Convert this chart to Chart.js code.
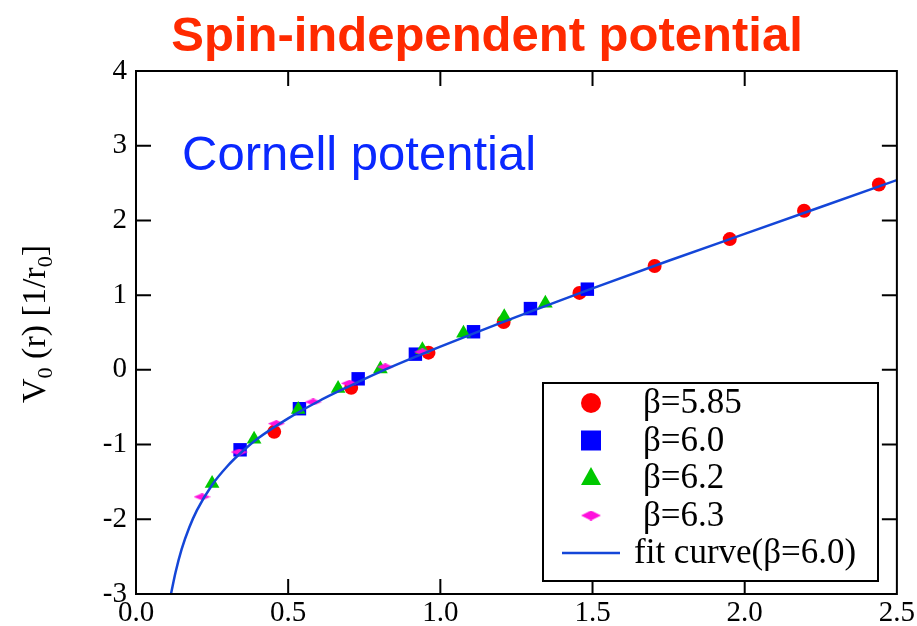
<!DOCTYPE html>
<html>
<head>
<meta charset="utf-8">
<script src="https://cdn.jsdelivr.net/npm/chart.js@4.4.0/dist/chart.umd.min.js"></script>
<style>
  html, body { margin: 0; padding: 0; background: #fff; }
  canvas { display: block; }
</style>
</head>
<body>
<canvas id="pot" width="917" height="626"></canvas>
<script>
// static potential V0(r) in units of r0, four lattice couplings
const r585 = [0.454, 0.707, 0.961, 1.208, 1.457, 1.704, 1.951, 2.195, 2.441]
const v585 = [-0.83, -0.24, 0.23, 0.64, 1.03, 1.39, 1.75, 2.13, 2.48]

const r600 = [0.342, 0.537, 0.730, 0.918, 1.109, 1.296, 1.483]
const v600 = [-1.07, -0.52, -0.12, 0.21, 0.51, 0.82, 1.08]

const r620 = [0.250, 0.388, 0.533, 0.664, 0.803, 0.941, 1.076, 1.210, 1.345]
const v620 = [-1.52, -0.93, -0.53, -0.25, 0.01, 0.27, 0.49, 0.71, 0.89]

const r630 = [0.217, 0.339, 0.461, 0.582, 0.701, 0.819, 0.941]
const v630 = [-1.70, -1.10, -0.72, -0.43, -0.18, 0.04, 0.24]

// fit curve (beta=6.0)
const rFit = [0.115, 0.13, 0.15, 0.175, 0.2, 0.25, 0.3, 0.35, 0.4, 0.5, 0.6, 0.7, 0.8, 1.0, 1.25, 1.5, 1.75, 2.0, 2.25, 2.5]
const vFit = [-3.0, -2.71, -2.40, -2.11, -1.88, -1.54, -1.29, -1.09, -0.92, -0.65, -0.42, -0.22, -0.03, 0.31, 0.71, 1.09, 1.46, 1.82, 2.18, 2.54]

const seriesLabels = ['β=5.85', 'β=6.0', 'β=6.2', 'β=6.3', 'fit curve(β=6.0)']
const xTicks = [0, 0.5, 1.0, 1.5, 2.0, 2.5]
const yTicks = [-3, -2, -1, 0, 1, 2, 3, 4]

const pts = (xs, ys) => xs.map((x, i) => ({ x: x, y: ys[i] }))

// flat magenta diamond used for beta=6.3
function diamond(w, h, color) {
	const c = document.createElement('canvas')
	c.width = w
	c.height = h
	const g = c.getContext('2d')
	g.fillStyle = color
	g.beginPath()
	g.moveTo(0, h / 2)
	g.lineTo(w / 2, 0)
	g.lineTo(w, h / 2)
	g.lineTo(w / 2, h)
	g.closePath()
	g.fill()
	return c
}

const RED = '#ff0000'
const BLUE = '#0000ff'
const GREEN = '#00c800'
const MAGENTA = '#ff10dc'
const FIT = '#1446d8'
const SERIF = "'Liberation Serif', 'Times New Roman', serif"
const SANS = "'Liberation Sans', Arial, sans-serif"

const frame = {
	id: 'frame',
	afterDatasetsDraw(chart) {
		const { ctx, chartArea: a, scales } = chart
		ctx.save()
		ctx.strokeStyle = '#000'
		ctx.lineWidth = 2
		ctx.strokeRect(a.left, a.top, a.right - a.left, a.bottom - a.top)
		const tl = 15
		ctx.beginPath()
		xTicks.slice(1, -1).forEach((v) => {
			const px = scales.x.getPixelForValue(v)
			ctx.moveTo(px, a.bottom)
			ctx.lineTo(px, a.bottom - tl)
			ctx.moveTo(px, a.top)
			ctx.lineTo(px, a.top + tl)
		})
		yTicks.slice(1, -1).forEach((v) => {
			const py = scales.y.getPixelForValue(v)
			ctx.moveTo(a.left, py)
			ctx.lineTo(a.left + tl, py)
			ctx.moveTo(a.right, py)
			ctx.lineTo(a.right - tl, py)
		})
		ctx.stroke()
		ctx.restore()
	},
}

const texts = {
	id: 'texts',
	afterDraw(chart) {
		const { ctx } = chart
		ctx.save()
		// title
		ctx.fillStyle = '#ff2a00'
		ctx.font = 'bold 49px ' + SANS
		ctx.textAlign = 'center'
		ctx.textBaseline = 'alphabetic'
		ctx.fillText('Spin-independent potential', 487, 51)

		// inset text
		ctx.fillStyle = '#0a28ff'
		ctx.font = '49px ' + SANS
		ctx.textAlign = 'left'
		ctx.fillText('Cornell potential', 182, 170)

		// y axis title with subscripts
		const parts = [
			['V', 34, 0], ['0', 22, 7], [' (r) [1/r', 34, 0], ['0', 22, 7], [']', 34, 0],
		]
		ctx.fillStyle = '#000'
		let total = 0
		parts.forEach((p) => {
			ctx.font = p[1] + 'px ' + SERIF
			total += ctx.measureText(p[0]).width
		})
		ctx.translate(45, 324)
		ctx.rotate(-Math.PI / 2)
		let x = -total / 2
		parts.forEach((p) => {
			ctx.font = p[1] + 'px ' + SERIF
			ctx.fillText(p[0], x, p[2])
			x += ctx.measureText(p[0]).width
		})
		ctx.restore()
	},
}

const legendBox = {
	id: 'legendBox',
	afterDraw(chart) {
		const { ctx } = chart
		const sets = chart.data.datasets
		ctx.save()
		ctx.fillStyle = '#fff'
		ctx.fillRect(543, 383, 335, 198)
		ctx.strokeStyle = '#000'
		ctx.lineWidth = 2
		ctx.strokeRect(543, 383, 335, 198)
		const sx = 591
		const rowY = (i) => 403 + i * 37.5
		sets.forEach((ds, i) => {
			const y = rowY(i)
			ctx.fillStyle = ds.backgroundColor
			ctx.strokeStyle = ds.borderColor
			if (ds.pointStyle === 'circle') {
				ctx.beginPath()
				ctx.arc(sx, y, 10, 0, Math.PI * 2)
				ctx.fill()
			} else if (ds.pointStyle === 'rect') {
				ctx.fillRect(sx - 10, y - 10, 20, 20)
			} else if (ds.pointStyle === 'triangle') {
				ctx.beginPath()
				ctx.moveTo(sx, y - 11)
				ctx.lineTo(sx + 10, y + 7)
				ctx.lineTo(sx - 10, y + 7)
				ctx.closePath()
				ctx.fill()
			} else if (ds.showLine) {
				ctx.lineWidth = 2.5
				ctx.beginPath()
				ctx.moveTo(562, y)
				ctx.lineTo(620, y)
				ctx.stroke()
			} else {
				ctx.drawImage(diamond(20, 10, MAGENTA), sx - 10, y - 5)
			}
			ctx.fillStyle = '#000'
			ctx.font = '35px ' + SERIF
			ctx.textBaseline = 'middle'
			ctx.fillText(ds.label, ds.showLine ? 634 : 643, y + 1)
		})
		ctx.restore()
	},
}

const tickFont = { family: SERIF, size: 29 }

new Chart(document.getElementById('pot'), {
	type: 'scatter',
	data: {
		datasets: [
			{
				label: seriesLabels[0],
				data: pts(r585, v585),
				pointStyle: 'circle',
				pointRadius: 7,
				backgroundColor: RED,
				borderColor: RED,
				borderWidth: 0,
				order: 5,
			},
			{
				label: seriesLabels[1],
				data: pts(r600, v600),
				pointStyle: 'rect',
				pointRadius: 9.5,
				backgroundColor: BLUE,
				borderColor: BLUE,
				borderWidth: 0,
				order: 4,
			},
			{
				label: seriesLabels[2],
				data: pts(r620, v620),
				pointStyle: 'triangle',
				pointRadius: 8.5,
				backgroundColor: GREEN,
				borderColor: GREEN,
				borderWidth: 0,
				order: 3,
			},
			{
				label: seriesLabels[3],
				data: pts(r630, v630),
				pointStyle: diamond(17, 7, MAGENTA),
				pointRadius: 8,
				backgroundColor: MAGENTA,
				borderColor: MAGENTA,
				borderWidth: 0,
				order: 2,
			},
			{
				label: seriesLabels[4],
				data: pts(rFit, vFit),
				showLine: true,
				pointRadius: 0,
				borderColor: FIT,
				backgroundColor: FIT,
				borderWidth: 2.5,
				cubicInterpolationMode: 'monotone',
				order: 1,
			},
		],
	},
	options: {
		responsive: false,
		animation: false,
		layout: { padding: { top: 71, right: 20, left: 0, bottom: 0 } },
		scales: {
			x: {
				type: 'linear',
				min: 0,
				max: 2.5,
				afterBuildTicks: (s) => { s.ticks = xTicks.map((v) => ({ value: v })) },
				afterFit: (s) => { s.height = 32 },
				ticks: {
					callback: (v) => v.toFixed(1),
					font: tickFont,
					color: '#000',
					padding: 2,
					maxRotation: 0,
				},
				grid: { display: false, drawTicks: false },
				border: { display: false },
			},
			y: {
				min: -3,
				max: 4,
				afterBuildTicks: (s) => { s.ticks = yTicks.map((v) => ({ value: v })) },
				afterFit: (s) => { s.width = 136 },
				ticks: {
					font: tickFont,
					color: '#000',
					padding: 9,
				},
				grid: { display: false, drawTicks: false },
				border: { display: false },
			},
		},
		plugins: {
			legend: { display: false },
			tooltip: { enabled: false },
		},
	},
	plugins: [frame, texts, legendBox],
})
</script>
</body>
</html>
